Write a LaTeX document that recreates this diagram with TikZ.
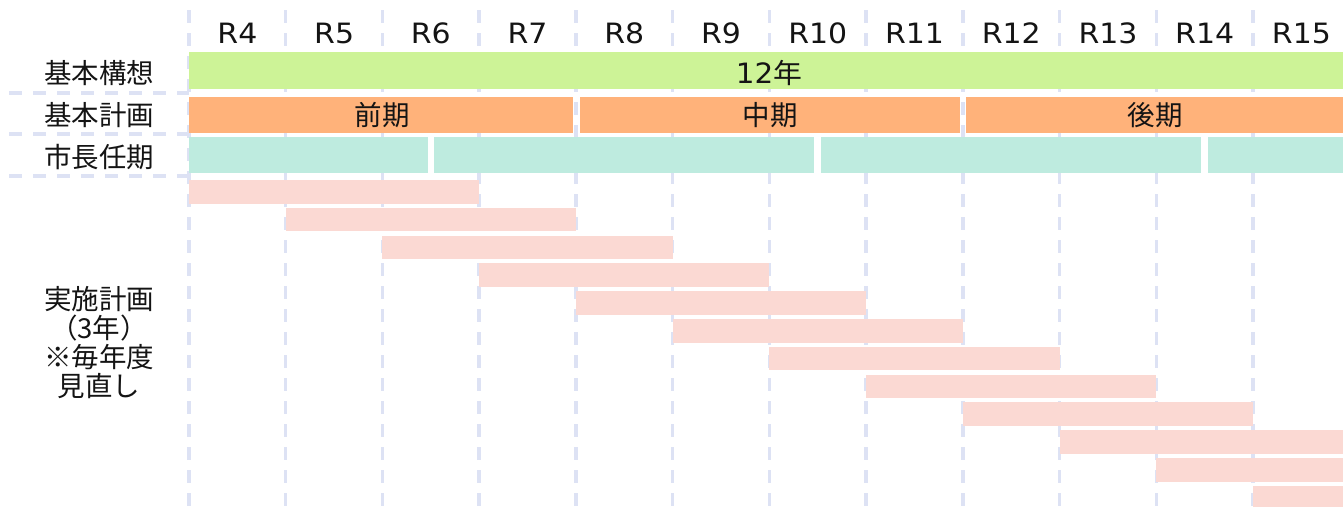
\documentclass[tikz,border=0pt]{standalone}
\usepackage{fontspec}
\setmainfont{DejaVu Sans}
\newfontfamily\cjk{Noto Sans CJK JP}
\definecolor{gridc}{HTML}{DDE2F4}
\definecolor{kousou}{HTML}{CDF397}
\definecolor{keikaku}{HTML}{FFB27A}
\definecolor{ninki}{HTML}{BEEBDF}
\definecolor{jisshi}{HTML}{FBD9D3}
\definecolor{txt}{HTML}{141414}
\tikzset{
  gridline/.style={draw=gridc, line width=3.5pt, dash pattern=on 13pt off 10pt},
  rowline/.style={draw=gridc, line width=3.5pt, dash pattern=on 13pt off 11pt},
  yearlbl/.style={text=txt, font=\fontsize{28}{32}\selectfont, inner sep=0pt, xscale=1.07},
  cjklbl/.style={text=txt, font=\cjk\fontsize{27.5}{29}\selectfont, inner sep=0pt, align=center},
}
\begin{document}
\begin{tikzpicture}[x=1pt,y=-1pt]
\useasboundingbox (0,0) rectangle (1343,506);
\fill[white] (0,0) rectangle (1343,506);
\begin{scope}
\clip (0,0) rectangle (1343,506);
% vertical grid lines
\foreach \i in {0,...,11} {
  \draw[gridline] ({189+96.73*\i},10) -- ({189+96.73*\i},506);
}
% horizontal label separators
\foreach \yy in {93,134,176} {
  \draw[rowline] (9,\yy) -- (189,\yy);
}
% year labels
\foreach \i/\r in {0/4,1/5,2/6,3/7,4/8,5/9,6/10,7/11,8/12,9/13,10/14,11/15} {
  \node[yearlbl] (yr\r) at ({189+96.73*\i+48.4},33) {R\r};
}
% 基本構想
\fill[kousou] (189,52) rectangle (1343,89);
\node[text=txt, inner sep=0pt, xscale=1.05] (twelve) at (769,73) {\fontsize{28}{32}\selectfont 12\cjk\fontsize{27.5}{29}\selectfont 年};
% 基本計画
\fill[keikaku] (189,97) rectangle (573,133);
\fill[keikaku] (580,97) rectangle (960,133);
\fill[keikaku] (966,97) rectangle (1343,133);
\node[cjklbl] (zenki) at (382,115) {前期};
\node[cjklbl] (chuki) at (770,115) {中期};
\node[cjklbl] (kouki) at (1155,115) {後期};
% 市長任期
\fill[ninki] (189,137) rectangle (428,173);
\fill[ninki] (434,137) rectangle (814,173);
\fill[ninki] (821,137) rectangle (1201,173);
\fill[ninki] (1208,137) rectangle (1343,173);
% 実施計画 bars
\foreach \i in {0,...,11} {
  \fill[jisshi] ({189+96.73*\i},{180+27.8*\i}) rectangle ({189+96.73*(\i+3)},{203.5+27.8*\i});
}
\end{scope}
% left labels
\node[cjklbl] (lkousou) at (99,73) {基本構想};
\node[cjklbl] (lkeikaku) at (99,115) {基本計画};
\node[cjklbl] (lninki) at (99,157) {市長任期};
\node[cjklbl] (ljisshi) at (99,343) {実施計画\\（3年）\\※毎年度\\見直し};
\end{tikzpicture}
\end{document}
